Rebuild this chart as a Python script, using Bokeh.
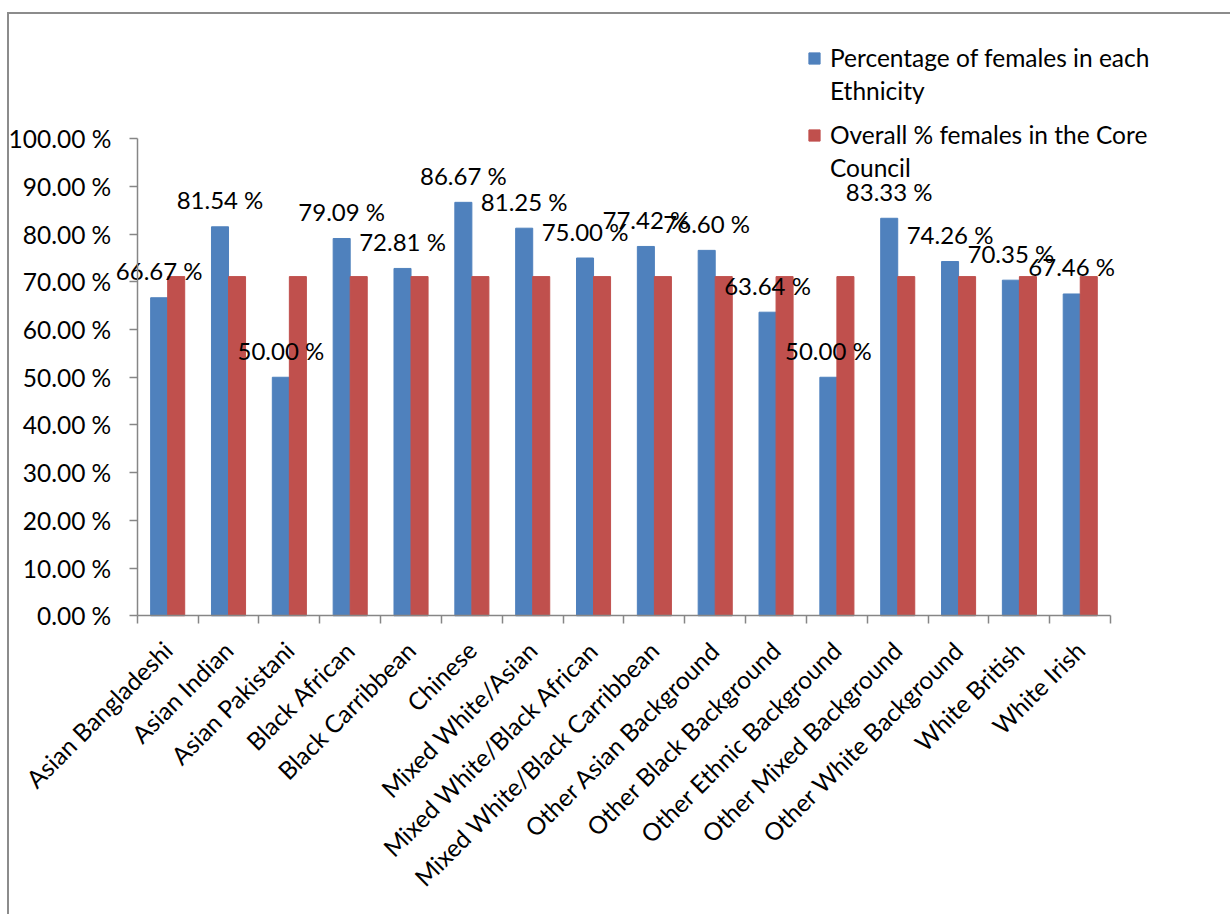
import math
from bokeh.plotting import figure
from bokeh.models import (Range1d, FixedTicker, PrintfTickFormatter, Legend,
                          LegendItem, ColumnDataSource)
from bokeh.core.properties import value
from bokeh.layouts import column
from bokeh.embed import file_html
from bokeh.resources import INLINE

# Ethnic groups and the share of females in each
ethnicities = [
    "Asian Bangladeshi", "Asian Indian", "Asian Pakistani", "Black African",
    "Black Carribbean", "Chinese", "Mixed White/Asian",
    "Mixed White/Black African", "Mixed White/Black Carribbean",
    "Other Asian Background", "Other Black Background",
    "Other Ethnic Background", "Other Mixed Background",
    "Other White Background", "White British", "White Irish",
]
pct_females = [66.67, 81.54, 50.00, 79.09, 72.81, 86.67, 81.25, 75.00,
               77.42, 76.60, 63.64, 50.00, 83.33, 74.26, 70.35, 67.46]
overall_pct = [71.1] * len(ethnicities)

# legend entries, one list per series (wrapped lines)
series_1_name = ["Percentage of females in each", "Ethnicity"]
series_2_name = ["Overall % females in the Core", "Council"]
y_ticks = [0, 10, 20, 30, 40, 50, 60, 70, 80, 90, 100]

BLUE = "#4F81BD"
RED = "#C0504D"
AXIS = "#868686"
FONT = "Lato"

n = len(ethnicities)
centers = [i + 0.5 for i in range(n)]
bounds = list(range(n + 1))
bar_w = 0.28

src = ColumnDataSource(dict(
    xb=[c - bar_w / 2 for c in centers],
    xr=[c + bar_w / 2 for c in centers],
    pct=pct_females,
    overall=overall_pct,
    lbl=[f"{v:.2f} %" for v in pct_females],
))

# The frame covers the whole drawing area so that no label is clipped;
# both axes are pinned at zero and stop at the data bounds.
p = figure(
    frame_width=1162, frame_height=892,
    min_border_left=0, min_border_top=5,
    min_border_right=80, min_border_bottom=5,
    x_range=Range1d(-2.1, n + 1), y_range=Range1d(-62, 125),
    output_backend="svg", toolbar_location=None,
    background_fill_color="white", border_fill_color="white",
)
p.outline_line_color = None
p.grid.visible = False

blue = p.vbar(x="xb", top="pct", width=bar_w, source=src,
              fill_color=BLUE, line_color=BLUE)
red = p.vbar(x="xr", top="overall", width=bar_w, source=src,
             fill_color=RED, line_color=RED)
# empty, invisible renderer used for the wrapped second line of legend entries
blank = p.vbar(x=[], top=[], width=bar_w, fill_alpha=0, line_alpha=0)

# value labels above the blue bars
p.text(x="xb", y="pct", text="lbl", source=src, y_offset=-27,
       text_align="center", text_baseline="middle",
       text_font=value(FONT), text_font_size="24px", text_color="black")

# y axis, drawn at x = 0
ya = p.yaxis[0]
ya.fixed_location = 0
ya.bounds = (0, 100)
ya.ticker = FixedTicker(ticks=y_ticks)
ya.formatter = PrintfTickFormatter(format="%.2f %%")
ya.axis_line_color = AXIS
ya.axis_line_width = 1.5
ya.major_tick_line_color = AXIS
ya.major_tick_line_width = 1.5
ya.major_tick_out = 8
ya.major_tick_in = 0
ya.minor_tick_line_color = None
ya.major_label_standoff = 18
ya.major_label_text_font = FONT
ya.major_label_text_font_size = "24.5px"
ya.major_label_text_color = "black"

# x axis at y = 0: labels at category centres, ticks at category boundaries
xa = p.xaxis[0]
xa.fixed_location = 0
xa.bounds = (0, n)
xa.ticker = FixedTicker(ticks=centers, minor_ticks=bounds)
xa.major_label_overrides = {c: name for c, name in zip(centers, ethnicities)}
xa.major_label_orientation = math.pi / 4
xa.axis_line_color = AXIS
xa.axis_line_width = 1.5
xa.major_tick_line_color = None
xa.minor_tick_line_color = AXIS
xa.minor_tick_line_width = 1.5
xa.minor_tick_out = 8
xa.minor_tick_in = 0
xa.major_label_standoff = 22
xa.major_label_text_font = FONT
xa.major_label_text_font_size = "24.5px"
xa.major_label_text_color = "black"


def make_legend(lines, renderer, loc):
    return Legend(
        items=[LegendItem(label=lines[0], renderers=[renderer]),
               LegendItem(label=lines[1], renderers=[blank])],
        location=loc,
        glyph_width=14, glyph_height=14, label_standoff=9,
        label_height=33, spacing=0,
        padding=0, margin=0,
        border_line_color=None, background_fill_alpha=0,
        label_text_font=FONT, label_text_font_size="24.5px",
        label_text_color="black",
    )


p.add_layout(make_legend(series_1_name, blue, (798, 804)), "center")
p.add_layout(make_legend(series_2_name, red, (798, 727)), "center")

page = column(p, styles={
    "border-top": "2px solid #8c8c8c",
    "border-left": "2px solid #8c8c8c",
    "margin-left": "7px",
    "margin-top": "12px",
})

open("out.html", "w").write(file_html(page, INLINE))
